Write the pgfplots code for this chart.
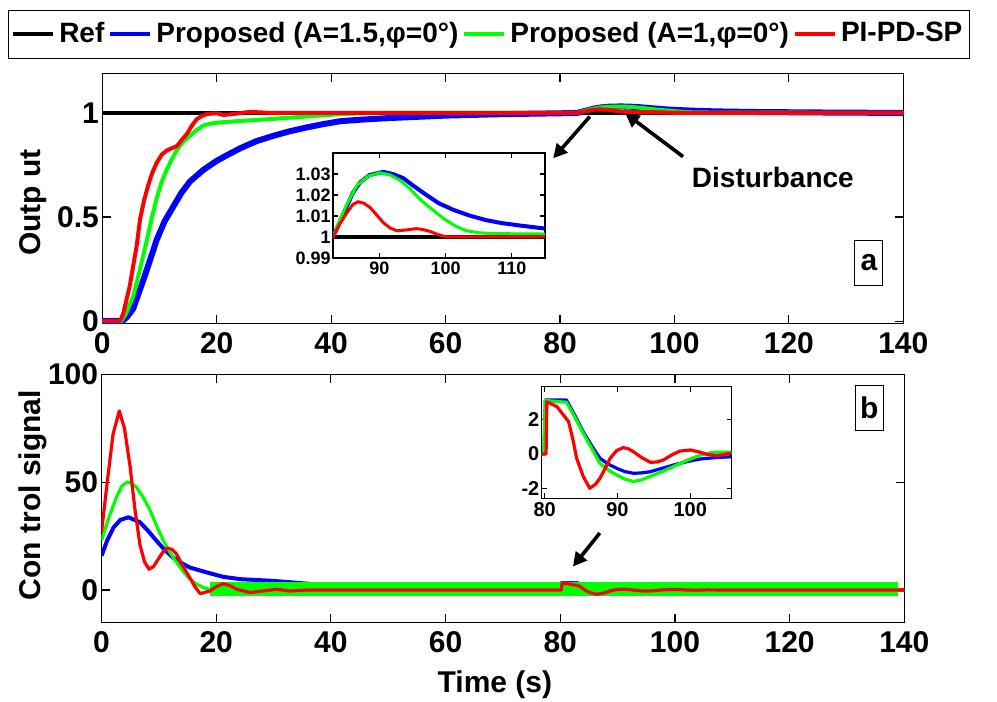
\documentclass[border=0pt]{standalone}
\usepackage{fontspec}
\setmainfont{Liberation Sans}
\usepackage{pgfplots}
\pgfplotsset{compat=1.18}
\usepackage{pgfplotstable}
\usetikzlibrary{arrows.meta}
\definecolor{mblue}{RGB}{0,0,255}
\definecolor{mgreen}{RGB}{0,255,0}
\definecolor{mred}{RGB}{255,0,0}

% ---------- Output (a) ----------
\pgfplotstableread{
x y
0 1
140 1
}\refA
\pgfplotstableread{
x y
0 0
3.5 0
4.3 0.02
5.4 0.06
6.3 0.13
7.2 0.20
8.3 0.29
9.5 0.39
10.9 0.48
12.4 0.55
13.8 0.615
15.3 0.67
17.6 0.725
20 0.77
22 0.80
24.1 0.83
27 0.865
29.9 0.89
32.8 0.912
35.7 0.93
38.6 0.946
41.6 0.96
45 0.967
50 0.975
60 0.987
70 0.994
80 0.998
83 1.0
84 1.007
85 1.014
86 1.021
87.1 1.026
88.5 1.0295
90.6 1.031
92 1.030
93.6 1.028
95.3 1.024
97.1 1.020
99 1.016
101.1 1.013
103.5 1.0103
106.1 1.008
108.5 1.0066
111.1 1.0055
115 1.004
120 1.003
130 1.001
140 1.0
}\blueA
\pgfplotstableread{
x y
0 0
3.3 0
4.2 0.04
5.4 0.12
6.5 0.24
7.8 0.39
8.6 0.49
9.5 0.59
10.4 0.67
11.3 0.73
12.2 0.78
13 0.82
14.1 0.86
15.3 0.89
16.5 0.918
17.7 0.94
18.8 0.948
20 0.953
24 0.961
27 0.966
32.8 0.977
37 0.985
41 0.993
45 0.998
50 1.0
83 1.0
84 1.008
85 1.015
86.6 1.0245
88.3 1.029
90.1 1.0306
91.6 1.0295
93.1 1.027
94.6 1.023
96.1 1.018
97.8 1.0135
99.6 1.009
101.3 1.0055
103.1 1.003
105 1.002
107.1 1.0016
115 1.0014
125 1.0005
140 1.0
}\greenA
\pgfplotstableread{
x y
0 0
3.1 0
3.7 0.04
4.8 0.17
6.0 0.36
6.6 0.49
7.3 0.58
8.0 0.65
8.7 0.71
9.5 0.76
10.4 0.80
11.3 0.82
12.1 0.83
13.0 0.84
13.9 0.87
14.8 0.90
15.7 0.94
16.5 0.97
17.4 0.985
18.3 0.995
20 0.998
21.2 0.99
23 0.995
25.8 1.005
29.3 1.0
83 1.0
84 1.006
85.1 1.0116
86 1.0155
86.8 1.0168
87.7 1.016
88.6 1.014
89.6 1.0105
90.6 1.0068
91.6 1.0043
92.6 1.003
94 1.0033
95.6 1.004
96.6 1.0035
97.6 1.0027
98.8 1.0012
100.1 1.0
140 1.0
}\redA

% ---------- Control signal (b) ----------
\pgfplotstableread{
x y
0 15.8
1 23
2.1 29
3.3 32.5
4.7 33.7
6.7 31.4
8.1 27.5
9.6 22.8
11 18.6
12.5 15
14 12.4
15.4 10.4
18.4 8.1
21.2 6.1
24.2 5.0
30 4.2
40 2
50 1
60 0.4
79.9 0
80.1 3.13
83 3.13
84.2 2.2
85.3 1.29
86.5 0.45
87.6 -0.25
88.8 -0.6
89.9 -0.83
91 -1.02
92.2 -1.12
93.3 -1.1
94.5 -1.03
96 -0.85
97.7 -0.64
99.5 -0.45
101.4 -0.29
103.5 -0.21
105.7 -0.16
110 -0.1
140 0
}\blueB
\pgfplotstableread{
x y
0 23
1.2 33
2.6 43
3.5 48
4.4 50
5.2 49.5
6.1 47.6
7.3 42.8
8.5 36.8
9.6 29.8
10.8 22.8
12 17.2
13.1 12.7
14.3 8.5
15.4 5.0
16.6 2.6
17.8 1.1
19 0
79.9 0
80.1 3.1
83 3.0
84.2 2.1
85.3 1.2
86.5 0.3
87.6 -0.55
88.8 -0.95
89.9 -1.22
91 -1.45
92.2 -1.6
93.3 -1.5
94.5 -1.3
96 -1.05
97.7 -0.73
99.5 -0.38
101.4 -0.06
103.2 0.1
106 0.1
110 0
140 0
}\greenB
\pgfplotstableread{
x y
19 -2.9
138.9 -2.9
138.9 3.85
19 3.85
}\greenBand
\pgfplotstableread{
x y
0 26.7
1 50
2 72
3.1 83
4 75
5.0 57
5.8 38
6.7 21
7.5 13
8.3 9.6
9.1 11
9.9 14.3
10.7 17.5
11.5 19.4
12.3 18.8
13.1 16.6
14.2 11
15.4 5.7
16.3 1.5
17.2 -1.7
18.9 -0.5
20 1.5
21.2 2.9
22.4 2
23.6 0.3
25.9 -1.2
28 -0.5
30.6 0.3
32.8 -0.5
36 0
80.2 0
80.3 3.03
81.7 2.74
83.3 1.87
83.9 0.8
84.4 -0.25
85.3 -1.3
86.2 -1.99
87 -1.75
87.6 -1.41
88.3 -0.85
89.0 -0.25
89.9 0.2
90.8 0.37
91.5 0.3
92.2 0.13
93.3 -0.2
94.5 -0.48
95.4 -0.47
96.3 -0.35
97.5 -0.05
98.6 0.17
100 0.23
101.2 0.12
102.3 -0.02
103.7 -0.1
105.7 0.05
108 0
140 0
}\redB

\pgfplotsset{
  matframe/.style={
    scale only axis,
    axis line style={line width=0.6pt},
    tick style={line width=0.6pt, black},
    tick align=inside,
    /pgf/number format/assume math mode=true,
    axis background/.style={fill=white},
  },
  bigticks/.style={
    tick label style={font=\fontsize{15}{18}\selectfont\bfseries},
    yticklabel style={inner xsep=1.5pt},
    xticklabel style={yshift=-1pt},
    label style={font=\fontsize{15}{18}\selectfont\bfseries},
  },
  smallticks/.style={
    tick label style={font=\fontsize{9}{11}\selectfont\bfseries},
    yticklabel style={inner xsep=1pt},
    xticklabel style={inner ysep=2pt},
  },
}

\begin{document}
\begin{tikzpicture}
\useasboundingbox (0pt,0pt) rectangle (498.5pt,351pt);

% ===== Top axis: Output =====
\begin{axis}[matframe, bigticks,
  at={(51.15pt,189.35pt)}, anchor=south west,
  width=400.5pt, height=125pt,
  xmin=0, xmax=140, ymin=-0.01, ymax=1.19,
  xtick={0,20,...,140}, ytick={0,0.5,1},
  yticklabels={0,0.5,1},
  ylabel={Outp ut},
  ylabel style={at={(axis description cs:-0.0865,0.483)}, anchor=center},
  legend columns=4,
  legend image code/.code={\draw[#1, line width=2pt] (0pt,0pt) -- (20pt,0pt);},
  legend style={at={(axis description cs:-0.118,1.255)}, anchor=north west,
    draw=black, line width=0.5pt, fill=white,
    inner xsep=1.5pt, inner ysep=4pt,
    font=\fontsize{14}{16}\selectfont\bfseries,
    nodes={inner sep=2pt, text depth=0.2em},
    /tikz/every even column/.append style={column sep=0pt}},
]
\addplot[black, line width=2pt] table[x=x,y=y]{\refA};
\addlegendentry{Ref}
\addplot[mblue, line width=3pt, line join=round] table[x=x,y=y]{\blueA};
\addlegendentry{Proposed (A=1.5,φ=0°)\hspace{12pt}}
\addplot[mgreen, line width=2pt, line join=round] table[x=x,y=y]{\greenA};
\addlegendentry{Proposed (A=1,φ=0°)\hspace{13pt}}
\addplot[mred, line width=2pt, line join=round] table[x=x,y=y]{\redA};
\addlegendentry{PI-PD-SP}
\draw[line width=1.8pt, -{Triangle[length=7pt,width=7pt]}] (axis cs:101.5,0.79) -- (axis cs:91.4,0.998);
\draw[line width=1.8pt, -{Triangle[length=7pt,width=7pt]}] (axis cs:85.2,0.982) -- (axis cs:78.8,0.782);
\node[font=\fontsize{14}{16}\selectfont\bfseries] at (axis cs:117.2,0.692) {Disturbance};
\node[draw=black, line width=0.5pt, minimum width=14pt, minimum height=22.5pt, inner sep=0pt,
  font=\fontsize{15}{18}\selectfont\bfseries] at (axis cs:134,0.28) {a};
\end{axis}

% ===== Inset a =====
\begin{axis}[matframe, smallticks,
  at={(166.5pt,222pt)}, anchor=south west,
  width=106pt, height=52.5pt,
  xmin=83, xmax=115, ymin=0.99, ymax=1.04,
  xtick={90,100,110}, ytick={0.99,1,1.01,1.02,1.03},
  yticklabels={0.99,1,1.01,1.02,1.03},
  major tick length=2.5pt,
]
\addplot[black, line width=1.6pt] table[x=x,y=y]{\refA};
\addplot[mblue, line width=2pt, line join=round] table[x=x,y=y]{\blueA};
\addplot[mgreen, line width=1.5pt, line join=round] table[x=x,y=y]{\greenA};
\addplot[mred, line width=1.5pt, line join=round] table[x=x,y=y]{\redA};
\end{axis}

% ===== Bottom axis: Control signal =====
\begin{axis}[matframe, bigticks,
  at={(50.75pt,39.85pt)}, anchor=south west,
  width=401.4pt, height=124pt,
  xmin=0, xmax=140, ymin=-15, ymax=100,
  xtick={0,20,...,140}, ytick={0,50,100},
  ylabel={Con trol  signal},
  ylabel style={at={(axis description cs:-0.0853,0.513)}, anchor=center},
  xlabel={Time (s)},
  xlabel style={at={(axis description cs:0.49,-0.253)}, anchor=center},
]
\addplot[mblue, line width=2pt, line join=round] table[x=x,y=y]{\blueB};
\addplot[mgreen, line width=1.6pt, line join=round] table[x=x,y=y]{\greenB};
\addplot[draw=none, fill=mgreen] table[x=x,y=y]{\greenBand} -- cycle;
\addplot[mred, line width=1.6pt, line join=round] table[x=x,y=y]{\redB};
\draw[line width=1.8pt, -{Triangle[length=7pt,width=7pt]}] (axis cs:86.9,26.4) -- (axis cs:82.2,10.8);
\node[draw=black, line width=0.5pt, minimum width=14pt, minimum height=22.5pt, inner sep=0pt,
  font=\fontsize{15}{18}\selectfont\bfseries] at (axis cs:133.9,84.4) {b};
\end{axis}

% ===== Inset b =====
\begin{axis}[matframe, smallticks,
  at={(270.85pt,101.85pt)}, anchor=south west,
  width=95pt, height=55.8pt,
  xmin=79.6, xmax=105.7, ymin=-2.57, ymax=3.9,
  xtick={80,90,100}, ytick={-2,0,2},
  major tick length=2.5pt,
  tick label style={font=\fontsize{10}{12}\selectfont\bfseries},
]
\addplot[mblue, line width=1.6pt, line join=round] table[x=x,y=y]{\blueB};
\addplot[mgreen, line width=1.6pt, line join=round] table[x=x,y=y]{\greenB};
\addplot[mred, line width=1.6pt, line join=round] table[x=x,y=y]{\redB};
\end{axis}
\end{tikzpicture}
\end{document}
